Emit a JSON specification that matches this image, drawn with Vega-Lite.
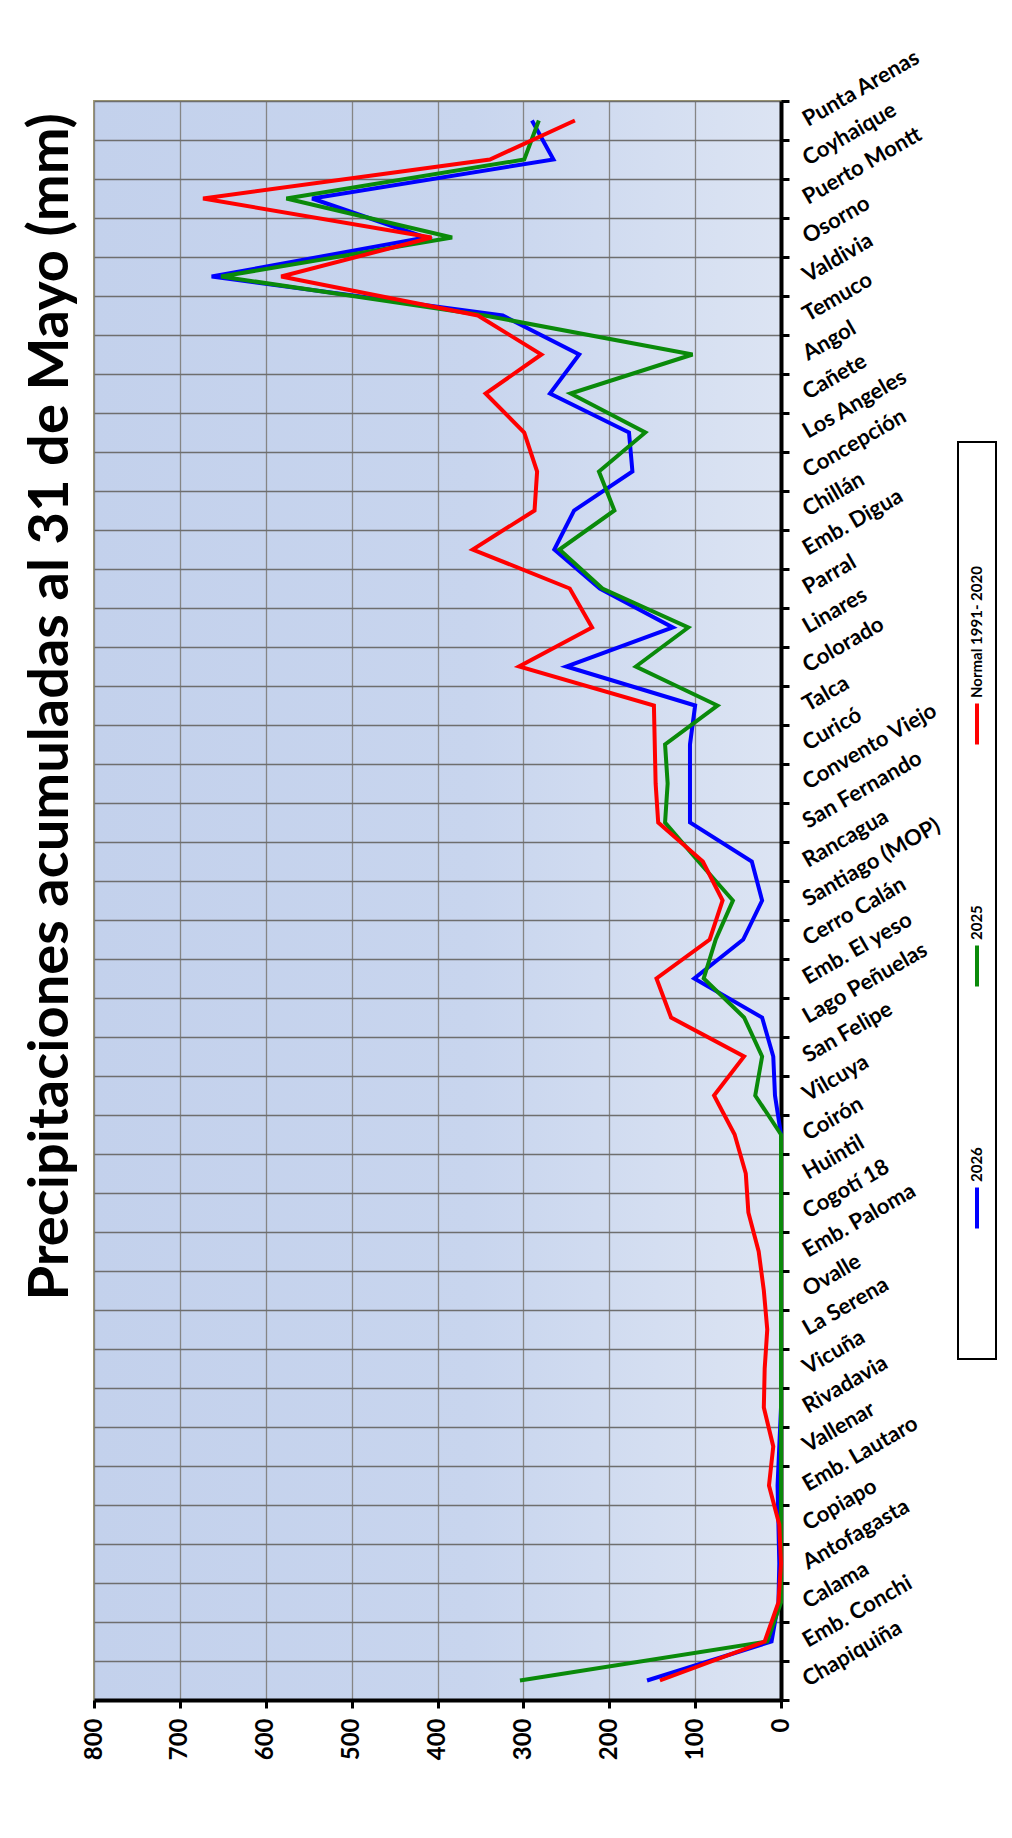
{
  "$schema": "https://vega.github.io/schema/vega-lite/v6.json",
  "background": "white",
  "padding": {"left": 22, "top": 44, "right": 5, "bottom": 5},
  "title": {"text": "Precipitaciones acumuladas al 31 de Mayo (mm)", "orient": "left", "anchor": "end", "frame": "group", "font": "Lato", "fontSize": 56, "fontWeight": "bold", "color": "black", "offset": 1, "dx": -12},
  "spacing": 177,
  "bounds": "flush",
  "center": true,
  "datasets": {
    "precip": [
      {"i": 0, "station": "Punta Arenas", "2026": 290, "2025": 282, "Normal 1991- 2020": 240},
      {"i": 1, "station": "Coyhaique", "2026": 265, "2025": 299, "Normal 1991- 2020": 339},
      {"i": 2, "station": "Puerto Montt", "2026": 546, "2025": 576, "Normal 1991- 2020": 673},
      {"i": 3, "station": "Osorno", "2026": 414, "2025": 383, "Normal 1991- 2020": 407},
      {"i": 4, "station": "Valdivia", "2026": 663, "2025": 652, "Normal 1991- 2020": 582},
      {"i": 5, "station": "Temuco", "2026": 324, "2025": 345, "Normal 1991- 2020": 353},
      {"i": 6, "station": "Angol", "2026": 235, "2025": 103, "Normal 1991- 2020": 279},
      {"i": 7, "station": "Cañete", "2026": 269, "2025": 245, "Normal 1991- 2020": 344},
      {"i": 8, "station": "Los Angeles", "2026": 177, "2025": 158, "Normal 1991- 2020": 299},
      {"i": 9, "station": "Concepción", "2026": 173, "2025": 212, "Normal 1991- 2020": 284},
      {"i": 10, "station": "Chillán", "2026": 241, "2025": 194, "Normal 1991- 2020": 287},
      {"i": 11, "station": "Emb. Digua", "2026": 264, "2025": 258, "Normal 1991- 2020": 359},
      {"i": 12, "station": "Parral", "2026": 211, "2025": 208, "Normal 1991- 2020": 246},
      {"i": 13, "station": "Linares", "2026": 126, "2025": 108, "Normal 1991- 2020": 220},
      {"i": 14, "station": "Colorado", "2026": 250, "2025": 169, "Normal 1991- 2020": 305},
      {"i": 15, "station": "Talca", "2026": 100, "2025": 74, "Normal 1991- 2020": 148},
      {"i": 16, "station": "Curicó", "2026": 106, "2025": 135, "Normal 1991- 2020": 147},
      {"i": 17, "station": "Convento Viejo", "2026": 106, "2025": 132, "Normal 1991- 2020": 146},
      {"i": 18, "station": "San Fernando", "2026": 106, "2025": 135, "Normal 1991- 2020": 143},
      {"i": 19, "station": "Rancagua", "2026": 34, "2025": 96, "Normal 1991- 2020": 91},
      {"i": 20, "station": "Santiago (MOP)", "2026": 22, "2025": 56, "Normal 1991- 2020": 68},
      {"i": 21, "station": "Cerro Calán", "2026": 44, "2025": 76, "Normal 1991- 2020": 83},
      {"i": 22, "station": "Emb. El yeso", "2026": 101, "2025": 90, "Normal 1991- 2020": 145},
      {"i": 23, "station": "Lago Peñuelas", "2026": 22, "2025": 43, "Normal 1991- 2020": 128},
      {"i": 24, "station": "San Felipe", "2026": 9, "2025": 22, "Normal 1991- 2020": 43},
      {"i": 25, "station": "Vilcuya", "2026": 7, "2025": 30, "Normal 1991- 2020": 78},
      {"i": 26, "station": "Coirón", "2026": 0, "2025": 0, "Normal 1991- 2020": 54},
      {"i": 27, "station": "Huintil", "2026": 0, "2025": 0, "Normal 1991- 2020": 41},
      {"i": 28, "station": "Cogotí 18", "2026": 0, "2025": 0, "Normal 1991- 2020": 38},
      {"i": 29, "station": "Emb. Paloma", "2026": 0, "2025": 0, "Normal 1991- 2020": 26},
      {"i": 30, "station": "Ovalle", "2026": 0, "2025": 0, "Normal 1991- 2020": 20},
      {"i": 31, "station": "La Serena", "2026": 0, "2025": 0, "Normal 1991- 2020": 16},
      {"i": 32, "station": "Vicuña", "2026": 0, "2025": 0, "Normal 1991- 2020": 19},
      {"i": 33, "station": "Rivadavia", "2026": 0, "2025": 0, "Normal 1991- 2020": 20},
      {"i": 34, "station": "Vallenar", "2026": 2, "2025": 0, "Normal 1991- 2020": 9},
      {"i": 35, "station": "Emb. Lautaro", "2026": 4, "2025": 0, "Normal 1991- 2020": 14},
      {"i": 36, "station": "Copiapo", "2026": 3, "2025": 0, "Normal 1991- 2020": 2},
      {"i": 37, "station": "Antofagasta", "2026": 2, "2025": 0, "Normal 1991- 2020": 0},
      {"i": 38, "station": "Calama", "2026": 3, "2025": 0, "Normal 1991- 2020": 3},
      {"i": 39, "station": "Emb. Conchi", "2026": 11, "2025": 16, "Normal 1991- 2020": 19},
      {"i": 40, "station": "Chapiquiña", "2026": 156, "2025": 304, "Normal 1991- 2020": 141}
    ],
    "legend": [
      {"serie": "Normal 1991- 2020"},
      {"serie": "2025"},
      {"serie": "2026"}
    ]
  },
  "hconcat": [
    {
      "width": 687,
      "height": 1599,
      "view": {
        "fill": {"gradient": "linear", "x1": 0, "y1": 0, "x2": 1, "y2": 0, "stops": [{"offset": 0, "color": "#c3d1ec"}, {"offset": 0.55, "color": "#c8d5ee"}, {"offset": 1, "color": "#dce4f3"}]},
        "stroke": "#a39c72",
        "strokeWidth": 2
      },
      "data": {"name": "precip"},
      "transform": [
        {"fold": ["2026", "2025", "Normal 1991- 2020"], "as": ["serie", "mm"]}
      ],
      "mark": {"type": "line", "strokeWidth": 4},
      "encoding": {
        "x": {
          "field": "mm", "type": "quantitative",
          "scale": {"domain": [0, 800], "reverse": true, "nice": false},
          "axis": {"orient": "bottom", "values": [0, 100, 200, 300, 400, 500, 600, 700, 800], "title": null, "labelAngle": 270, "labelFontSize": 24, "labelPadding": 10, "tickSize": 8, "tickWidth": 3, "domainWidth": 4, "grid": true, "gridColor": "#858585", "gridWidth": 1.3, "labelFlush": false}
        },
        "y": {
          "field": "station", "type": "ordinal",
          "sort": ["Punta Arenas", "Coyhaique", "Puerto Montt", "Osorno", "Valdivia", "Temuco", "Angol", "Cañete", "Los Angeles", "Concepción", "Chillán", "Emb. Digua", "Parral", "Linares", "Colorado", "Talca", "Curicó", "Convento Viejo", "San Fernando", "Rancagua", "Santiago (MOP)", "Cerro Calán", "Emb. El yeso", "Lago Peñuelas", "San Felipe", "Vilcuya", "Coirón", "Huintil", "Cogotí 18", "Emb. Paloma", "Ovalle", "La Serena", "Vicuña", "Rivadavia", "Vallenar", "Emb. Lautaro", "Copiapo", "Antofagasta", "Calama", "Emb. Conchi", "Chapiquiña"],
          "scale": {"type": "band", "paddingInner": 0, "paddingOuter": 0},
          "axis": {"orient": "right", "title": null, "tickBand": "extent", "grid": true, "gridColor": "#6e6e6e", "gridWidth": 1.6, "labelAngle": -30, "labelAlign": "left", "labelBaseline": "middle", "labelPadding": 15, "labelFontSize": 22, "tickSize": 8, "tickWidth": 3, "domainWidth": 4, "labelLimit": 0, "labelOverlap": false}
        },
        "color": {
          "field": "serie", "type": "nominal",
          "scale": {"domain": ["2026", "2025", "Normal 1991- 2020"], "range": ["#0000ff", "#0a8a0a", "#ff0000"]},
          "legend": null
        },
        "order": {"field": "i", "type": "quantitative"}
      }
    },
    {
      "width": 38,
      "height": 917,
      "view": {"stroke": "black", "strokeWidth": 2, "fill": "white"},
      "data": {"name": "legend"},
      "layer": [
        {
          "mark": {"type": "point", "shape": "stroke", "angle": 90, "size": 1681, "strokeWidth": 4, "filled": false, "opacity": 1},
          "encoding": {
            "y": {"field": "serie", "type": "nominal", "scale": {"type": "point", "domain": ["Normal 1991- 2020", "2025", "2026"], "range": [282, 766], "padding": 0}, "axis": null},
            "color": {"field": "serie", "type": "nominal", "scale": {"domain": ["2026", "2025", "Normal 1991- 2020"], "range": ["#0000ff", "#0a8a0a", "#ff0000"]}, "legend": null}
          }
        },
        {
          "mark": {"type": "text", "angle": 270, "align": "left", "baseline": "middle", "dx": 26, "font": "Lato", "fontSize": 15, "fontWeight": "bold", "color": "black"},
          "encoding": {
            "y": {"field": "serie", "type": "nominal", "scale": {"type": "point", "domain": ["Normal 1991- 2020", "2025", "2026"], "range": [282, 766], "padding": 0}, "axis": null},
            "text": {"field": "serie"}
          }
        }
      ]
    }
  ],
  "config": {
    "axis": {"labelFont": "Lato", "labelFontWeight": "bold", "labelColor": "black", "domainColor": "black", "tickColor": "black"}
  }
}
